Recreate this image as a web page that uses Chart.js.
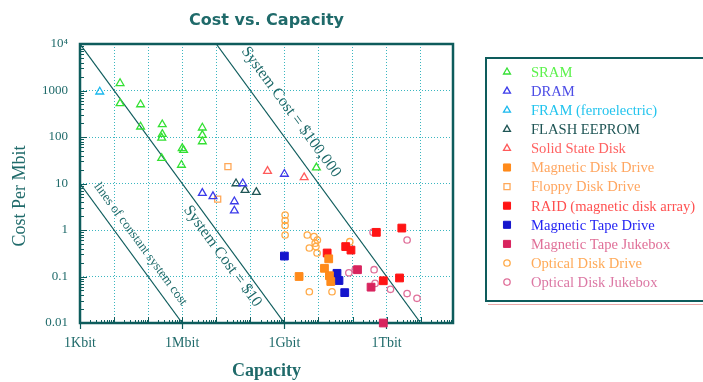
<!DOCTYPE html>
<html>
<head>
<meta charset="utf-8">
<script src="https://cdn.jsdelivr.net/npm/chart.js@4.4.0/dist/chart.umd.min.js"></script>
<style>
  html, body { margin: 0; padding: 0; background: #fff; }
  canvas { display: block; }
</style>
</head>
<body>
<canvas id="chart" width="703" height="382"></canvas>
<script>
// capacity in bits, cost in $ per Mbit
const sramCap = [1.5e4, 1.5e4, 6e4, 6e4, 2.6e5, 2.6e5, 2.5e5, 2.5e5, 1e6, 1.1e6, 9.5e5, 3.9e6, 3.9e6, 3.9e6, 8.7e9];
const sramCost = [1430, 530, 500, 166, 186, 115, 96, 35, 57, 52, 25, 158, 110, 80, 22];
const dramCap = [3.9e6, 8e6, 3.4e7, 3.4e7, 6e7, 1e9];
const dramCost = [6.2, 5.3, 4.1, 2.6, 10, 16];
const framCap = [3.8e3];
const framCost = [940];
const flashCap = [3.8e7, 7e7, 1.5e8];
const flashCost = [10, 7.2, 6.5];
const ssdCap = [3.2e8, 3.8e9];
const ssdCost = [18.5, 13.5];
const diskCap = [2.7e9, 1.5e10, 2e10, 2.3e10, 2.1e10];
const diskCost = [0.10, 0.15, 0.24, 0.078, 0.104];
const floppyCap = [2.2e7, 1.1e7];
const floppyCost = [23, 4.6];
const raidCap = [1.8e10, 6.3e10, 9e10, 5e11, 2.8e12, 8e11, 2.4e12];
const raidCost = [0.32, 0.44, 0.37, 0.89, 1.1, 0.081, 0.093];
const tapeCap = [1e9, 3.5e10, 3.2e10, 4e10, 5.9e10];
const tapeCost = [0.275, 0.117, 0.091, 0.082, 0.045];
const tapeJukeCap = [1.4e11, 3.5e11, 8e11];
const tapeJukeCost = [0.14, 0.059, 0.01];
const opticalCap = [1.05e9, 1.05e9, 1.05e9, 1.05e9, 4.7e9, 7.4e9, 9.3e9, 5.4e9, 8.4e9, 9.1e9, 8e9, 8.3e10, 5.4e9, 2.5e10];
const opticalCost = [2.1, 1.6, 1.25, 0.78, 0.78, 0.72, 0.61, 0.41, 0.44, 0.32, 0.52, 0.56, 0.047, 0.047];
const optJukeCap = [4e11, 4e12, 7.8e10, 1.2e11, 4.3e11, 4.6e11, 1.3e12, 4e12, 7.8e12];
const optJukeCost = [0.9, 0.61, 0.12, 0.14, 0.14, 0.071, 0.053, 0.043, 0.034];

// constant system cost lines ($)
const systemCosts = [0.01, 10, 100000];

const xMin = 1e3, xMax = 8.9e13;
const yMin = 0.01, yMax = 1e4;
const xTickLabels = { 3: '1Kbit', 6: '1Mbit', 9: '1Gbit', 12: '1Tbit' };
const yTickLabels = { '-2': '0.01', '-1': '0.1', 0: '1', 1: '10', 2: '100', 3: '1000', 4: '10\u2074' };

const axisColor = '#0e5c5c';
const textColor = '#1f6a6a';
const gridColor = '#3ab6c0';
const serif = '"Liberation Serif", "Times New Roman", serif';

const pts = (xs, ys) => xs.map((x, i) => ({ x: x, y: ys[i] }));
const exp10 = v => Math.round(Math.log10(v) * 1e6) / 1e6;
const isDecade = v => Number.isInteger(exp10(v));

function logTicks(min, max) {
  const out = [];
  for (let k = Math.floor(Math.log10(min)); k <= Math.ceil(Math.log10(max)); k++) {
    for (let m = 1; m <= 9; m++) {
      const v = Number(m + 'e' + k);
      if (v >= min * 0.9999 && v <= max * 1.0001) out.push({ value: v });
    }
  }
  return out;
}

function series(label, xs, ys, style, color, textCol, fill, radius) {
  return {
    label: label,
    data: pts(xs, ys),
    pointStyle: style,
    pointRadius: radius,
    pointHoverRadius: radius,
    pointBorderWidth: fill ? 1 : 1.3,
    borderColor: color,
    backgroundColor: fill ? color : 'rgba(255,255,255,0)',
    showLine: false,
    clip: false,
    legendText: textCol
  };
}

const datasets = [
  series('SRAM', sramCap, sramCost, 'triangle', '#33e033', '#5cf24c', false, 4.5),
  series('DRAM', dramCap, dramCost, 'triangle', '#3b3bea', '#4d4de6', false, 4.5),
  series('FRAM (ferroelectric)', framCap, framCost, 'triangle', '#18b8ee', '#22c4ee', false, 4.5),
  series('FLASH EEPROM', flashCap, flashCost, 'triangle', '#1f5555', '#1f5555', false, 4.5),
  series('Solid State Disk', ssdCap, ssdCost, 'triangle', '#ff5a5a', '#ff6262', false, 4.5),
  series('Magnetic Disk Drive', diskCap, diskCost, 'rect', '#ff8a1a', '#ffa660', true, 5.5),
  series('Floppy Disk Drive', floppyCap, floppyCost, 'rect', '#ffa858', '#ffa660', false, 4.3),
  series('RAID (magnetic disk array)', raidCap, raidCost, 'rect', '#ff1414', '#ff5050', true, 5.5),
  series('Magnetic Tape Drive', tapeCap, tapeCost, 'rect', '#1414cc', '#2424f4', true, 5.5),
  series('Magnetic Tape Jukebox', tapeJukeCap, tapeJukeCost, 'rect', '#d8245e', '#e07098', true, 5.5),
  series('Optical Disk Drive', opticalCap, opticalCost, 'circle', '#ffaa48', '#ffaa58', false, 3.2),
  series('Optical Disk Jukebox', optJukeCap, optJukeCost, 'circle', '#e0709a', '#dc78a4', false, 3.2)
];

// lines of constant system cost: cost per Mbit = S * 1e6 / capacity
systemCosts.forEach(s => {
  const c0 = Math.max(xMin, s * 1e6 / yMax);
  const c1 = Math.min(xMax, s * 1e6 / yMin);
  datasets.push({
    data: [{ x: c0, y: s * 1e6 / c0 }, { x: c1, y: s * 1e6 / c1 }],
    showLine: true,
    borderColor: axisColor,
    borderWidth: 1.2,
    pointRadius: 0,
    pointHoverRadius: 0
  });
});

const lineLabels = [
  { text: 'System Cost = $100,000', cost: 100000, at: Math.pow(10, 8.72), offset: -20, size: 16 },
  { text: 'System Cost = $10', cost: 10, at: Math.pow(10, 7.43), offset: 10.5, size: 16 },
  { text: 'lines of constant system cost', cost: 0.01, at: Math.pow(10, 4.47), offset: -13, size: 13 }
];

const decor = {
  id: 'decor',
  beforeDatasetsDraw(chart) {
    const { ctx, chartArea: a, scales } = chart;
    ctx.save();
    ctx.strokeStyle = axisColor;
    ctx.lineWidth = 1;
    // inner tick marks
    scales.x.ticks.forEach(t => {
      const px = Math.round(scales.x.getPixelForValue(t.value)) + 0.5;
      const len = isDecade(t.value) ? 6 : 3;
      ctx.beginPath(); ctx.moveTo(px, a.bottom); ctx.lineTo(px, a.bottom - len); ctx.stroke();
    });
    scales.y.ticks.forEach(t => {
      const py = Math.round(scales.y.getPixelForValue(t.value)) + 0.5;
      const len = isDecade(t.value) ? 7 : 4;
      ctx.beginPath(); ctx.moveTo(a.left, py); ctx.lineTo(a.left + len, py); ctx.stroke();
    });
    ctx.lineWidth = 2.5;
    ctx.strokeRect(a.left, a.top, a.right - a.left, a.bottom - a.top);
    ctx.restore();
  },
  afterDraw(chart) {
    const { ctx, scales } = chart;
    ctx.save();
    ctx.fillStyle = textColor;
    ctx.textAlign = 'center';
    ctx.textBaseline = 'middle';
    lineLabels.forEach(l => {
      const x1 = scales.x.getPixelForValue(l.at);
      const y1 = scales.y.getPixelForValue(l.cost * 1e6 / l.at);
      const x2 = scales.x.getPixelForValue(l.at * 10);
      const y2 = scales.y.getPixelForValue(l.cost * 1e6 / (l.at * 10));
      const ang = Math.atan2(y2 - y1, x2 - x1);
      ctx.save();
      ctx.translate(x1 - Math.sin(ang) * l.offset, y1 + Math.cos(ang) * l.offset);
      ctx.rotate(ang);
      ctx.font = l.size + 'px ' + serif;
      ctx.fillText(l.text, 0, 0);
      ctx.restore();
    });

    // y axis title
    ctx.save();
    ctx.translate(20, 196);
    ctx.rotate(-Math.PI / 2);
    ctx.font = '18px ' + serif;
    ctx.fillText('Cost Per Mbit', 0, 0);
    ctx.restore();

    // legend box
    const box = { left: 486, top: 58, right: 712, bottom: 301 };
    ctx.strokeStyle = '#e8a8a8';
    ctx.lineWidth = 1;
    ctx.beginPath();
    ctx.moveTo(box.left + 2, box.bottom + 3.5);
    ctx.lineTo(box.right, box.bottom + 3.5);
    ctx.stroke();
    ctx.strokeStyle = axisColor;
    ctx.lineWidth = 2;
    ctx.strokeRect(box.left, box.top, box.right - box.left, box.bottom - box.top);

    ctx.textAlign = 'left';
    ctx.font = '14.6px ' + serif;
    const items = chart.data.datasets.filter(d => d.legendText);
    items.forEach((d, i) => {
      const y = 72 + i * 19.1;
      ctx.fillStyle = d.backgroundColor;
      ctx.strokeStyle = d.borderColor;
      ctx.lineWidth = d.pointBorderWidth;
      Chart.helpers.drawPoint(ctx, {
        pointStyle: d.pointStyle,
        radius: d.pointStyle === 'rect' ? Math.min(d.pointRadius, 5) : Math.min(d.pointRadius, 4),
        rotation: 0,
        borderWidth: d.pointBorderWidth
      }, 507, y);
      ctx.fillStyle = d.legendText;
      ctx.fillText(d.label, 531, y + 1);
    });
    ctx.restore();
  }
};

new Chart(document.getElementById('chart'), {
  type: 'scatter',
  data: { datasets: datasets },
  plugins: [decor],
  options: {
    responsive: false,
    animation: false,
    devicePixelRatio: 1,
    layout: { padding: { right: 250 } },
    plugins: {
      legend: { display: false },
      tooltip: { enabled: false },
      title: {
        display: true,
        fullSize: false,
        text: 'Cost vs. Capacity',
        color: textColor,
        font: { family: '"DejaVu Sans", Verdana, sans-serif', size: 16, weight: 'bold', lineHeight: 1.2 },
        padding: { top: 11, bottom: 13.8 }
      }
    },
    scales: {
      x: {
        type: 'logarithmic',
        min: xMin,
        max: xMax,
        afterBuildTicks: s => { s.ticks = logTicks(s.min, s.max); },
        afterFit: s => { s.height = 59; },
        border: { display: false, dash: [1, 2] },
        grid: {
          color: c => (c.tick && isDecade(c.tick.value)) ? gridColor : 'rgba(0,0,0,0)',
          tickColor: c => (c.tick && xTickLabels[exp10(c.tick.value)]) ? axisColor : 'rgba(0,0,0,0)',
          tickLength: 6,
          tickWidth: 1.2
        },
        ticks: {
          autoSkip: false,
          maxRotation: 0,
          padding: 6,
          color: textColor,
          font: { family: serif, size: 14 },
          callback: v => xTickLabels[exp10(v)] || ''
        },
        title: {
          display: true,
          text: 'Capacity',
          color: textColor,
          font: { family: serif, size: 18, weight: 'bold', lineHeight: 1.2 },
          padding: { top: 0, bottom: 0 }
        }
      },
      y: {
        type: 'logarithmic',
        min: yMin,
        max: yMax,
        afterBuildTicks: s => { s.ticks = logTicks(s.min, s.max); },
        afterFit: s => { s.width = 80; },
        border: { display: false, dash: [1, 2] },
        grid: {
          color: c => (c.tick && isDecade(c.tick.value)) ? gridColor : 'rgba(0,0,0,0)',
          drawTicks: false
        },
        ticks: {
          autoSkip: false,
          padding: 12,
          color: textColor,
          font: { family: serif, size: 13 },
          callback: v => yTickLabels[exp10(v)] || ''
        }
      }
    }
  }
});
</script>
</body>
</html>
